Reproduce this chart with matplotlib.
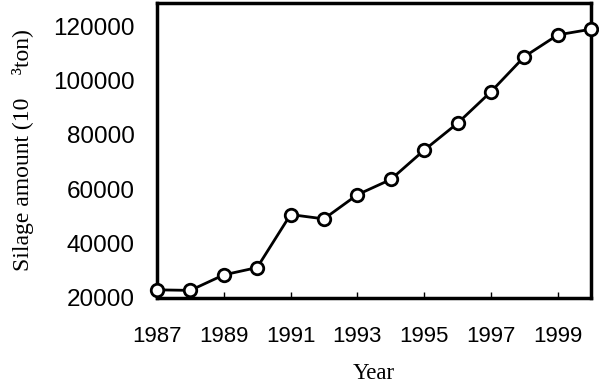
import matplotlib
matplotlib.use("Agg")
import matplotlib.pyplot as plt

years = [1987, 1988, 1989, 1990, 1991, 1992, 1993, 1994, 1995, 1996, 1997, 1998, 1999, 2000]
silage = [23000, 22800, 28500, 31200, 50700, 49100, 58000, 63600, 74400, 84300, 95900, 108800, 116800, 118900]
xtick_years = [1987, 1989, 1991, 1993, 1995, 1997, 1999]
yticks = [20000, 40000, 60000, 80000, 100000, 120000]

fig = plt.figure(figsize=(5.99, 3.85), dpi=100)
ax = fig.add_axes([0.262, 0.226, 0.725, 0.766])

ax.plot(years, silage, color="black", lw=2, marker="o", ms=9,
        mfc="white", mec="black", mew=2, clip_on=False, zorder=5)

ax.set_xlim(1987, 2000)
ax.set_ylim(20000, 128500)
ax.set_xticks(xtick_years)
ax.set_yticks(yticks)
ax.set_xticklabels([str(y) for y in xtick_years], family="Liberation Sans", fontsize=16)
ax.set_yticklabels([str(v) for v in yticks], family="Liberation Sans", fontsize=17.5)
ax.tick_params(axis="x", direction="in", length=4, width=1, pad=20)
ax.tick_params(axis="y", length=0, pad=16)

for s in ax.spines.values():
    s.set_linewidth(2.5)

ax.set_xlabel("Year", family="Liberation Serif", fontsize=16.5, labelpad=12)
ax.set_ylabel("Silage amount (10    \u00b3ton)", family="Liberation Serif", fontsize=17, labelpad=14)

fig.savefig("out.png", dpi=100)
